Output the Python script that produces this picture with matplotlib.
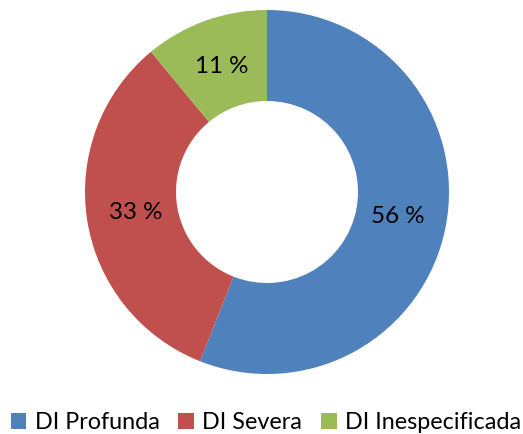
import matplotlib.pyplot as plt

categorias = ["DI Profunda", "DI Severa", "DI Inespecificada"]
porcentajes = [56, 33, 11]
colores = ["#4F81BD", "#C0504D", "#9BBB59"]

plt.rcParams['font.family'] = ['Lato', 'DejaVu Sans']

fig = plt.figure(figsize=(5.23, 4.34), dpi=100)
ax = fig.add_axes([85 / 523, 60 / 434, 364 / 523, 364 / 434])

wedges, texts, autotexts = ax.pie(
    porcentajes,
    colors=colores,
    startangle=90,
    counterclock=False,
    radius=1,
    autopct=lambda p: "%.0f %%" % p,
    pctdistance=0.73,
    wedgeprops=dict(width=0.5, linewidth=0),
    textprops=dict(fontsize=17.4, color="black"),
)
ax.set_xlim(-1, 1)
ax.set_ylim(-1, 1)
ax.set_aspect("equal")
ax.axis("off")

fig.legend(
    wedges, categorias,
    loc="center", bbox_to_anchor=(0.508, 0.027),
    ncol=3, frameon=False, fontsize=16.8,
    handlelength=0.68, handleheight=0.68, handletextpad=0.35,
    columnspacing=0.8, borderaxespad=0,
)

fig.savefig("out.png", dpi=100)
